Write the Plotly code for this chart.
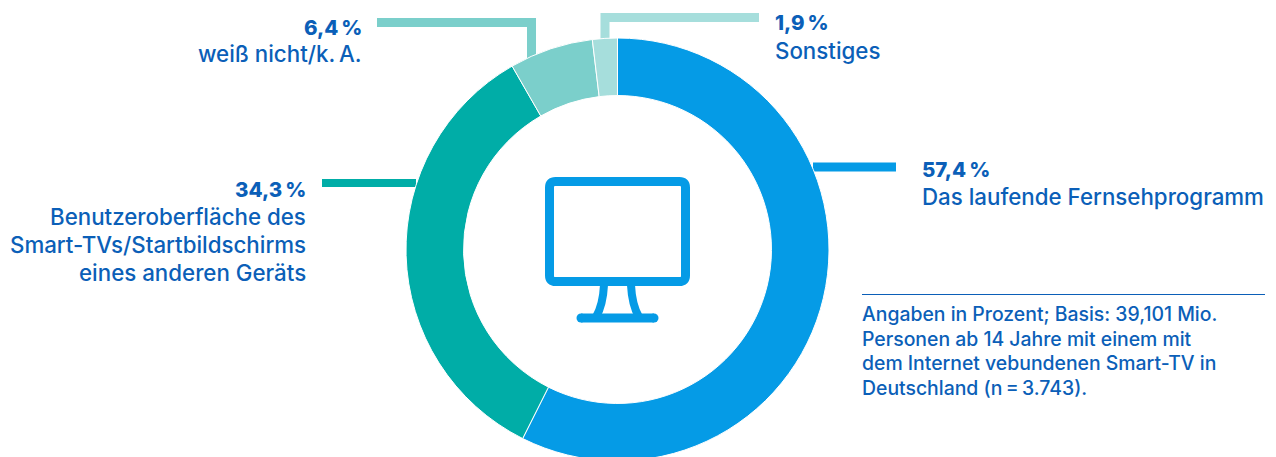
import plotly.graph_objects as go

categories = ["Das laufende Fernsehprogramm", "Benutzeroberfläche des Smart-TVs/Startbildschirms eines anderen Geräts", "weiß nicht/k.\u2009A.", "Sonstiges"]
values = [57.4, 34.3, 6.4, 1.9]
colors = ["#059BE6", "#00ADA7", "#7BCFCB", "#A6DEDC"]
value_labels = ["57,4\u2009%", "34,3\u2009%", "6,4\u2009%", "1,9\u2009%"]
note_lines = ["Angaben in Prozent; Basis: 39,101 Mio.", "Personen ab 14 Jahre mit einem mit",
              "dem Internet vebundenen Smart-TV in", "Deutschland (n\u2009=\u20093.743)."]

W, H = 1276, 474
TEXT = "#0B5FB8"
FONT = "Inter"

def px(x): return x / W
def py(y): return 1 - y / H

fig = go.Figure(go.Pie(
    labels=categories, values=values, sort=False, direction="clockwise", rotation=0,
    hole=0.728, textinfo="none", hoverinfo="label+percent",
    marker=dict(colors=colors, line=dict(color="white", width=1)),
    domain=dict(x=[px(406), px(829)], y=[py(461), py(38)]),
    showlegend=False,
))

shapes = []
def path(points_str, color, width, layer="below"):
    shapes.append(dict(type="path", path=points_str, xref="paper", yref="paper",
                       line=dict(color=color, width=width), layer=layer))
def P(x, y): return f"{px(x):.5f},{py(y):.5f}"

# leader lines
path(f"M{P(813,167)} L{P(896,167)}", colors[0], 9)
path(f"M{P(322,183)} L{P(416,183)}", colors[1], 8)
path(f"M{P(377,22.5)} L{P(531.5,22.5)} L{P(531.5,60)}", colors[2], 9)
path(f"M{P(759,17.5)} L{P(605,17.5)} L{P(605,40)}", colors[3], 9)
# thin rule above the note
path(f"M{P(862,294.5)} L{P(1265,294.5)}", TEXT, 1)

# monitor icon
ic = colors[0]
L, R, T, B, r = 549.5, 685.5, 181.5, 281.5, 6
icon = (f"M{P(L+r,T)} L{P(R-r,T)} Q{P(R,T)} {P(R,T+r)} L{P(R,B-r)} Q{P(R,B)} {P(R-r,B)} "
        f"L{P(L+r,B)} Q{P(L,B)} {P(L,B-r)} L{P(L,T+r)} Q{P(L,T)} {P(L+r,T)} Z")
path(icon, ic, 9)
path(f"M{P(604,285)} Q{P(603,305)} {P(596,317)}", ic, 8)
path(f"M{P(631,285)} Q{P(632,305)} {P(639,317)}", ic, 8)
path(f"M{P(581,318)} L{P(654,318)}", ic, 9)
# round ends of the icon's foot
for cx in (581, 654):
    shapes.append(dict(type="circle", xref="paper", yref="paper", x0=px(cx - 4.5), x1=px(cx + 4.5),
                       y0=py(322.5), y1=py(313.5), fillcolor=ic, line=dict(width=0), layer="below"))

ann = []
def text(x, y, s, anchor="left", size=22.3, bold=False):
    ann.append(dict(x=px(x), y=py(y), xref="paper", yref="paper", text=s, showarrow=False,
                    xanchor=anchor, yanchor="middle", borderpad=0, borderwidth=0,
                    font=dict(family=FONT, size=size if not bold else 20.5, color=TEXT,
                              weight=800 if bold else 500)))

text(922, 169, value_labels[0], bold=True)
text(922, 197, categories[0])
text(306, 189, value_labels[1], "right", bold=True)
text(306, 216, "Benutzeroberfläche des", "right")
text(306, 244, "Smart-TVs/Startbildschirms", "right")
text(306, 272, "eines anderen Geräts", "right")
text(362, 28, value_labels[2], "right", bold=True)
text(362, 54, categories[2], "right")
text(775, 23, value_labels[3], bold=True)
text(775, 50, categories[3])
for y, line in zip([314, 339, 363, 388], note_lines):
    text(862, y, line, size=19.4)

fig.update_layout(width=W, height=H, margin=dict(l=0, r=0, t=0, b=0, autoexpand=False),
                  paper_bgcolor="white", plot_bgcolor="white", shapes=shapes, annotations=ann)
fig.write_html("out.html", config={"displayModeBar": False},
               post_script="document.body.style.margin='0';document.documentElement.style.overflow='hidden';document.body.style.overflow='hidden';")
